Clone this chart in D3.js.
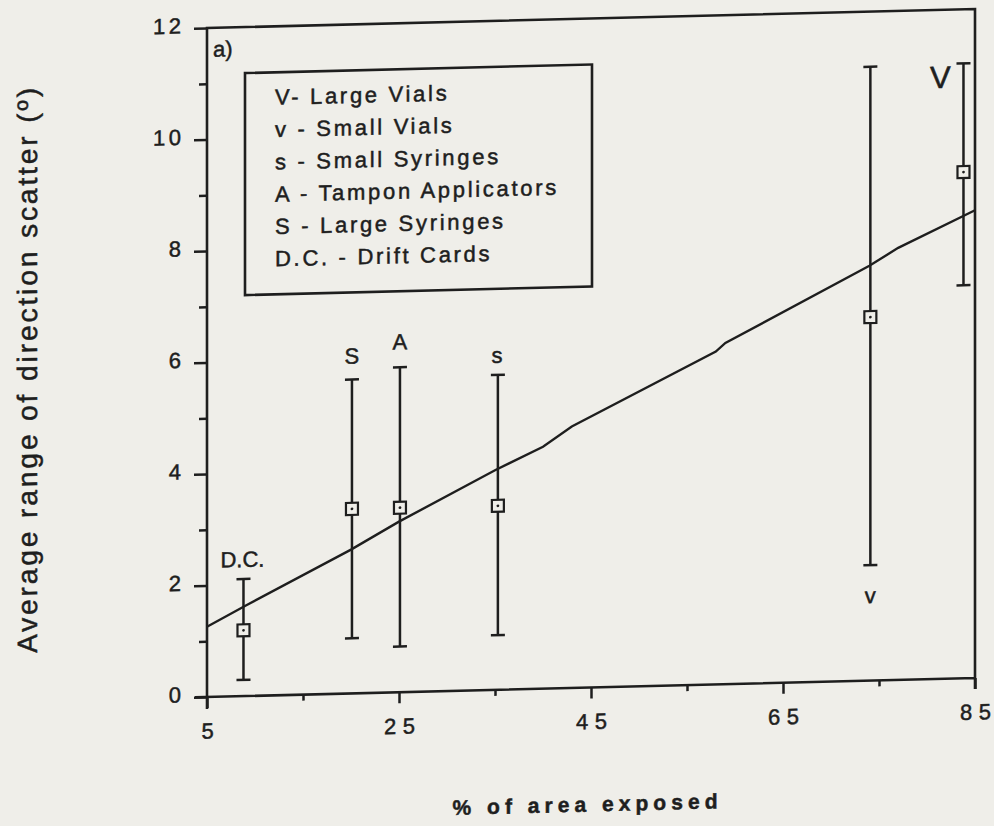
<!DOCTYPE html>
<html>
<head>
<meta charset="utf-8">
<script src="https://cdn.jsdelivr.net/npm/d3@7"></script>
<style>
  html, body { margin: 0; padding: 0; background: #efeee9; }
  svg { display: block; }
  text { font-family: "Liberation Sans", Arial, Helvetica, sans-serif; fill: #1e1e1e; stroke: #1e1e1e; stroke-width: 0.5px; }
</style>
</head>
<body>
<svg id="chart" width="994" height="826"></svg>
<script>
// ---------------- data ----------------
const codes   = ["D.C.", "S", "A", "s", "v", "V"];
const xExpose = [8.8, 20.1, 25.1, 35.3, 74.1, 83.8];
const meanVal = [1.18, 3.31, 3.31, 3.30, 6.52, 9.08];
const upperVal = [2.10, 5.63, 5.83, 5.65, 11.01, 11.03];
const lowerVal = [0.29, 0.99, 0.82, 0.98, 2.07, 7.05];

const fitX = [5, 9, 20, 25, 35, 40, 43, 58, 59, 74, 77, 85];
const fitY = [1.26, 1.62, 2.58, 3.06, 3.94, 4.34, 4.69, 5.97, 6.12, 7.44, 7.75, 8.39];

const legendEntries = ["V- Large Vials", "v - Small Vials", "s - Small Syringes",
                       "A - Tampon Applicators", "S - Large Syringes", "D.C. - Drift Cards"];

const xMajorTicks = [5, 25, 45, 65, 85];
const xMinorTicks = [15, 35, 55, 75];
const yMajorTicks = [0, 2, 4, 6, 8, 10, 12];
const yMinorTicks = [1, 3, 5, 7, 9, 11];

const panelLabel = "a)";
const xTitle = "% of area exposed";
const yTitle = "Average range of direction scatter (º)";

// ---------------- drawing ----------------
const ink = "#1e1e1e";
const paper = "#efeee9";
const svg = d3.select("#chart");
svg.append("rect").attr("width", 994).attr("height", 826).attr("fill", paper);

const x = d3.scaleLinear().domain([5, 85]).range([207, 975]);
const y = d3.scaleLinear().domain([0, 12]).range([697, 28]);

// slight scan skew of the original
const K = 19 / 768;
const g = svg.append("g")
  .attr("transform", `translate(207,697) matrix(1,${-K},0,1,0,0) translate(-207,-697)`);

// axes (ticks + labels)
function styleAxis(sel) {
  sel.select(".domain").remove();
  sel.selectAll(".tick line").attr("stroke", ink).attr("stroke-width", 2.5);
  sel.selectAll(".tick text").attr("fill", ink).style("font-size", "22px");
}

const yMajor = g.append("g").attr("transform", `translate(${x(5)},0)`)
  .call(d3.axisLeft(y).tickValues(yMajorTicks).tickSize(13).tickPadding(13).tickFormat(d3.format("d")));
styleAxis(yMajor);
yMajor.selectAll(".tick text").attr("dy", "0.2em")
  .each(function(d) { if (String(d).length > 1) d3.select(this).attr("textLength", 28).attr("lengthAdjust", "spacing"); });

const yMinor = g.append("g").attr("transform", `translate(${x(5)},0)`)
  .call(d3.axisLeft(y).tickValues(yMinorTicks).tickSize(8).tickFormat(""));
styleAxis(yMinor);

const xMajor = g.append("g").attr("transform", `translate(0,${y(0)})`)
  .call(d3.axisBottom(x).tickValues(xMajorTicks).tickSize(11).tickPadding(15).tickFormat(d3.format("d")));
styleAxis(xMajor);
xMajor.selectAll(".tick text")
  .each(function(d) { if (String(d).length > 1) d3.select(this).attr("textLength", 31).attr("lengthAdjust", "spacing"); });

const xMinor = g.append("g").attr("transform", `translate(0,${y(0)})`)
  .call(d3.axisBottom(x).tickValues(xMinorTicks).tickSize(6).tickFormat(""));
styleAxis(xMinor);

// frame
const frame = d3.path();
frame.moveTo(x(5), y(0) + 12);
frame.lineTo(x(5), y(12));
frame.lineTo(x(85), y(12));
frame.lineTo(x(85), y(0) + 11);
frame.moveTo(x(5) - 12, y(0));
frame.lineTo(x(85), y(0));
g.append("path").attr("d", frame.toString())
  .attr("fill", "none").attr("stroke", ink).attr("stroke-width", 2.6);

// fitted line
const fitPts = fitX.map((v, i) => [v, fitY[i]]);
g.append("path")
  .datum(fitPts)
  .attr("d", d3.line().x(d => x(d[0])).y(d => y(d[1])))
  .attr("fill", "none").attr("stroke", ink).attr("stroke-width", 2.4);

// error bars
const pts = codes.map((c, i) => ({ code: c, x: xExpose[i], m: meanVal[i], hi: upperVal[i], lo: lowerVal[i] }));
const capW = 7;
const bars = g.append("g").selectAll("g").data(pts).join("g");
bars.append("line")
  .attr("x1", d => x(d.x)).attr("x2", d => x(d.x))
  .attr("y1", d => y(d.hi)).attr("y2", d => y(d.lo))
  .attr("stroke", ink).attr("stroke-width", 2.5);
bars.append("line")
  .attr("x1", d => x(d.x) - capW).attr("x2", d => x(d.x) + capW)
  .attr("y1", d => y(d.hi)).attr("y2", d => y(d.hi))
  .attr("stroke", ink).attr("stroke-width", 2.5);
bars.append("line")
  .attr("x1", d => x(d.x) - capW).attr("x2", d => x(d.x) + capW)
  .attr("y1", d => y(d.lo)).attr("y2", d => y(d.lo))
  .attr("stroke", ink).attr("stroke-width", 2.5);
bars.append("rect")
  .attr("x", d => x(d.x) - 6).attr("y", d => y(d.m) - 6)
  .attr("width", 12).attr("height", 12)
  .attr("fill", paper).attr("stroke", ink).attr("stroke-width", 2.2);
bars.append("circle")
  .attr("cx", d => x(d.x)).attr("cy", d => y(d.m)).attr("r", 1.4).attr("fill", ink);

// code labels next to each bar
function labelPlace(d) {
  if (d.code === "V") return { x: x(d.x) - 23, y: y(d.hi) + 24, size: 31 };
  if (d.code === "v") return { x: x(d.x), y: y(d.lo) + 38, size: 22 };
  if (d.code === "A") return { x: x(d.x), y: y(d.hi) - 18, size: 22 };
  if (d.code === "S") return { x: x(d.x), y: y(d.hi) - 16, size: 22 };
  return { x: x(d.x) - 1, y: y(d.hi) - 12, size: 22 };
}
bars.append("text")
  .each(function(d) {
    const p = labelPlace(d);
    d3.select(this).attr("x", p.x).attr("y", p.y).style("font-size", p.size + "px");
  })
  .attr("text-anchor", "middle")
  .text(d => d.code);

// panel label
g.append("text").attr("x", 213).attr("y", 57).style("font-size", "22px").text(panelLabel);

// legend
const lg = g.append("g");
lg.append("rect").attr("x", 245).attr("y", 74).attr("width", 347).attr("height", 222)
  .attr("fill", "none").attr("stroke", ink).attr("stroke-width", 2.6);
lg.selectAll("text").data(legendEntries).join("text")
  .attr("x", 275).attr("y", (d, i) => 106.5 + i * 32.3)
  .style("font-size", "22px").style("letter-spacing", "2.7px")
  .text(d => d);

// axis titles
g.append("text")
  .attr("transform", "translate(37,366) rotate(-90)")
  .attr("text-anchor", "middle")
  .style("font-size", "28px")
  .attr("textLength", 565).attr("lengthAdjust", "spacing")
  .text(yTitle);

g.append("text")
  .attr("x", 585).attr("y", 821)
  .attr("text-anchor", "middle")
  .style("font-size", "21px").style("font-weight", "bold")
  .attr("textLength", 265).attr("lengthAdjust", "spacing")
  .text(xTitle);
</script>
</body>
</html>
